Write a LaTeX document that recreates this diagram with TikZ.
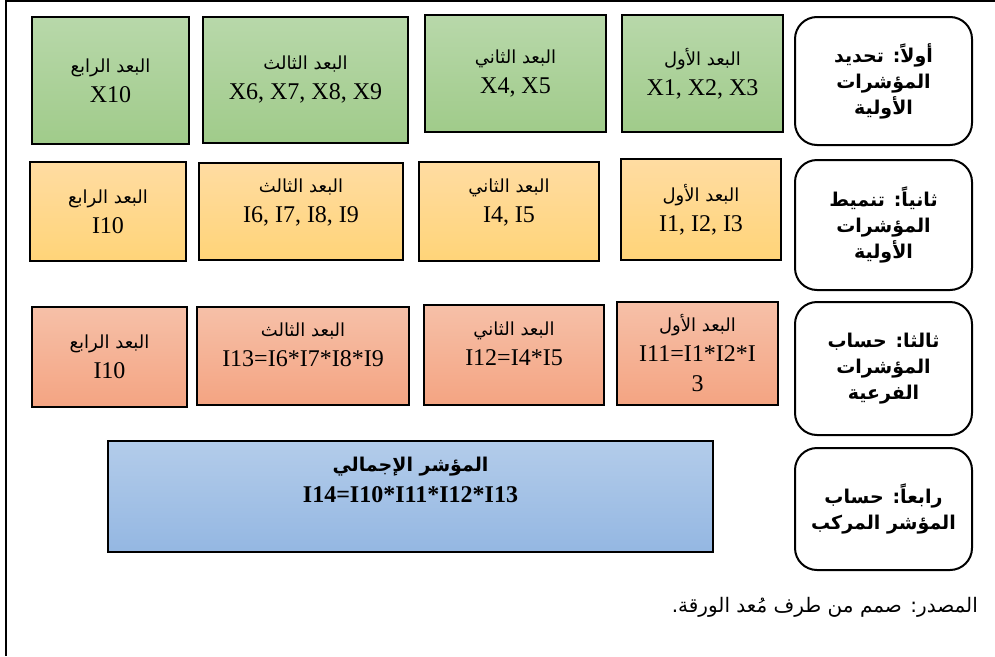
\documentclass[tikz,border=0pt]{standalone}
\usepackage{fontspec}
\setmainfont{Liberation Serif}
\newfontfamily\arabicfont[Script=Arabic]{DejaVu Sans}
\TeXXeTstate=1
\usetikzlibrary{positioning}

\definecolor{dimGreenTop}{HTML}{B8D8AA}
\definecolor{dimGreenBot}{HTML}{A0CB8A}
\definecolor{dimGoldTop}{HTML}{FFDCA2}
\definecolor{dimGoldBot}{HTML}{FFD478}
\definecolor{dimRoseTop}{HTML}{F6C0A8}
\definecolor{dimRoseBot}{HTML}{F4A482}
\definecolor{dimBlueTop}{HTML}{B3CCEA}
\definecolor{dimBlueBot}{HTML}{94B7E2}

\newcommand{\ar}[1]{{\arabicfont\fontsize{18}{30}\selectfont\beginR #1\endR}}
\newcommand{\arb}[1]{{\arabicfont\bfseries\fontsize{19}{26}\selectfont\beginR #1\endR}}

\tikzset{
  dimbox/.style={draw, line width=2.4pt, align=center,
    font=\fontsize{24}{30}\selectfont},
  greenbox/.style={dimbox, top color=dimGreenTop, bottom color=dimGreenBot},
  goldbox/.style={dimbox, top color=dimGoldTop, bottom color=dimGoldBot},
  rosebox/.style={dimbox, top color=dimRoseTop, bottom color=dimRoseBot},
  totalbox/.style={dimbox, top color=dimBlueTop, bottom color=dimBlueBot,
    font=\bfseries\fontsize{24}{31}\selectfont},
  stagebox/.style={draw, line width=2pt, rounded corners=22pt, fill=white,
    align=center, minimum width=177pt, font=\fontsize{19}{26}\selectfont},
  lift/.style={text depth=#1}
}

\begin{document}
\begin{tikzpicture}[x=1pt, y=-1pt]
  \useasboundingbox (0,0) rectangle (995,656);
  \draw[line width=1.4pt] (995,1) -- (6,1) -- (6,656);

  % stages on the right
  \node[stagebox, minimum height=128pt] (st1) at (883.5,81)
    {\arb{أولاً: تحديد}\\ \arb{المؤشرات}\\ \arb{الأولية}};
  \node[stagebox, minimum height=130pt] (st2) at (883.5,225)
    {\arb{ثانياً: تنميط}\\ \arb{المؤشرات}\\ \arb{الأولية}};
  \node[stagebox, minimum height=133pt] (st3) at (883.5,368.5)
    {\arb{ثالثا: حساب}\\ \arb{المؤشرات}\\ \arb{الفرعية}};
  \node[stagebox, minimum height=122pt] (st4) at (883.5,509)
    {\arb{رابعاً: حساب}\\ \arb{المؤشر المركب}};

  % first row: raw indicators
  \node[greenbox, minimum width=161pt, minimum height=117pt] (x1) at (702.5,73.5)
    {\ar{البعد الأول}\\ X1, X2, X3};
  \node[greenbox, minimum width=181pt, minimum height=117pt] (x2) at (515.5,73.5)
    {\ar{البعد الثاني}\\ X4, X5};
  \node[greenbox, minimum width=205pt, minimum height=126pt] (x3) at (305.5,80)
    {\ar{البعد الثالث}\\ X6, X7, X8, X9};
  \node[greenbox, minimum width=157pt, minimum height=127pt] (x4) at (110.5,80.5)
    {\ar{البعد الرابع}\\ X10};

  % second row: normalised
  \node[goldbox, minimum width=160pt, minimum height=101pt] (n1) at (701,209.5)
    {\ar{البعد الأول}\\ I1, I2, I3};
  \node[goldbox, minimum width=180pt, minimum height=99pt, lift=22pt] (n2) at (509,211.5)
    {\ar{البعد الثاني}\\ I4, I5};
  \node[goldbox, minimum width=204pt, minimum height=97pt, lift=22pt] (n3) at (301,211.5)
    {\ar{البعد الثالث}\\ I6, I7, I8, I9};
  \node[goldbox, minimum width=156pt, minimum height=99pt] (n4) at (108,211.5)
    {\ar{البعد الرابع}\\ I10};

  % third row: sub-indicators
  \node[rosebox, minimum width=161pt, minimum height=103pt] (s1) at (697.5,353.5)
    {\ar{البعد الأول}\\ I11=I1*I2*I\\ 3};
  \node[rosebox, minimum width=180pt, minimum height=100pt, lift=22pt] (s2) at (514,355)
    {\ar{البعد الثاني}\\ I12=I4*I5};
  \node[rosebox, minimum width=212pt, minimum height=98pt, lift=22pt] (s3) at (303,356)
    {\ar{البعد الثالث}\\ I13=I6*I7*I8*I9};
  \node[rosebox, minimum width=155pt, minimum height=100pt] (s4) at (109.5,357)
    {\ar{البعد الرابع}\\ I10};

  % composite
  \node[totalbox, minimum width=605pt, minimum height=111pt, lift=34pt] (tot) at (410.5,496.5)
    {\arb{المؤشر الإجمالي}\\ I14=I10*I11*I12*I13};

  \node[anchor=east, inner sep=0pt] (src) at (978,607)
    {\arabicfont\fontsize{20}{24}\selectfont\beginR المصدر: صمم من طرف مُعد الورقة.\endR};
\end{tikzpicture}
\end{document}
